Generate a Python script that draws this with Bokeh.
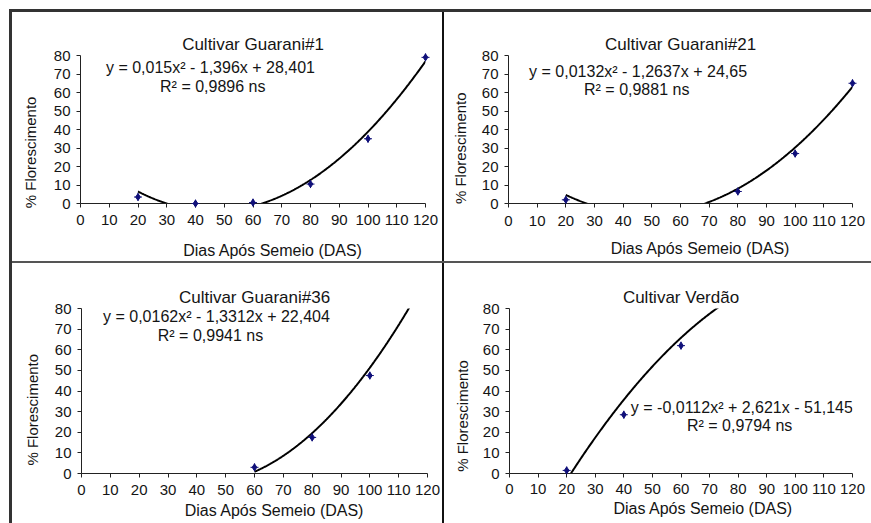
import numpy as np
from bokeh.plotting import figure
from bokeh.models import Range1d, FixedTicker, Label, Div, LinearAxis
from bokeh.layouts import row, column
from bokeh.embed import file_html
from bokeh.resources import INLINE

# ---------------- data ----------------
x_ticks = [0, 10, 20, 30, 40, 50, 60, 70, 80, 90, 100, 110, 120]
y_ticks = [0, 10, 20, 30, 40, 50, 60, 70, 80]

title_g1 = "Cultivar Guarani#1"
title_g21 = "Cultivar Guarani#21"
title_g36 = "Cultivar Guarani#36"
title_v = "Cultivar Verdão"

das_g1 = [20, 40, 60, 80, 100, 120]
flor_g1 = [3.5, 0, 0.5, 10.5, 35, 79]
das_g21 = [20, 80, 100, 120]
flor_g21 = [2, 6.5, 27, 65]
das_g36 = [60, 80, 100]
flor_g36 = [3, 17.5, 47.5]
das_v = [20, 40, 60]
flor_v = [1.5, 28.5, 62]

# printed trend-line coefficients (a, b, c) for y = a x^2 + b x + c
coef_g1 = [0.015, -1.396, 28.401]
coef_g21 = [0.0132, -1.2637, 24.65]
coef_g36 = [0.0162, -1.3312, 22.404]
coef_v = [-0.0112, 2.621, -51.145]

eq_g1 = "y = 0,015x² - 1,396x + 28,401"
r2_g1 = "R² = 0,9896 ns"
eq_g21 = "y = 0,0132x² - 1,2637x + 24,65"
r2_g21 = "R² = 0,9881  ns"
eq_g36 = "y = 0,0162x² - 1,3312x + 22,404"
r2_g36 = "R² = 0,9941  ns"
eq_v = "y = -0,0112x² + 2,621x - 51,145"
r2_v = "R² = 0,9794  ns"

x_label = "Dias Após Semeio (DAS)"
y_label = "% Florescimento"

FONT = "Liberation Sans"
TXT = "#141414"
NAVY = "#10107a"
NBSP = "\u00a0"


def panel(title, das, flor, coef, eq, r2, eq_pos, r2_pos, w, h, bl, br, bt, bb,
          tick_standoff, xlab_standoff, ylab_standoff, xpad, ypad):
    p = figure(width=w, height=h, output_backend="svg", toolbar_location=None,
               x_range=Range1d(0, 120), y_range=Range1d(0, 80),
               min_border_left=bl, min_border_right=br, min_border_top=bt,
               min_border_bottom=bb, background_fill_color="white",
               border_fill_color="white")
    p.outline_line_color = None
    p.grid.visible = False

    xa = p.below[0]
    ya = p.left[0]
    for ax in (xa, ya):
        ax.axis_line_color = "#222222"
        ax.major_tick_line_color = "#222222"
        ax.major_tick_out = 4
        ax.major_tick_in = 0
        ax.minor_tick_line_color = None
        ax.major_label_text_font = FONT
        ax.major_label_text_font_size = "15px"
        ax.major_label_text_color = TXT
        ax.axis_label_text_font = FONT
        ax.axis_label_text_font_style = "normal"
        ax.axis_label_text_color = TXT
    xa.axis_label_text_font_size = "16px"
    ya.axis_label_text_font_size = "15px"
    xa.ticker = FixedTicker(ticks=x_ticks)
    ya.ticker = FixedTicker(ticks=y_ticks)
    # the original axis titles sit to the right of / lower than the frame centre
    xa.axis_label = NBSP * xpad + x_label
    ya.axis_label = y_label + NBSP * ypad
    xa.major_label_standoff = tick_standoff
    xa.axis_label_standoff = xlab_standoff
    ya.major_label_standoff = 6
    ya.axis_label_standoff = ylab_standoff

    # empty spacer axis between the frame and the title (no line, no ticks)
    spacer = LinearAxis(ticker=FixedTicker(ticks=[]), axis_line_color=None,
                        major_tick_line_color=None, minor_tick_line_color=None,
                        major_tick_out=19, major_tick_in=0, minor_tick_out=0,
                        minor_tick_in=0, major_label_standoff=0,
                        major_label_text_font_size="1px")
    p.add_layout(spacer, "above")

    p.title.text = title
    p.title.align = "center"
    p.title.vertical_align = "top"
    p.title.text_font = FONT
    p.title.text_font_size = "17px"
    p.title.text_font_style = "normal"
    p.title.text_color = TXT
    p.title.standoff = 0

    a, b, c = coef
    xs = np.linspace(das[0], 120, 400)
    ys = a * xs ** 2 + b * xs + c
    p.line(xs, ys, line_color="black", line_width=2)

    p.scatter(das, flor, marker="diamond", size=7, color=NAVY, level="overlay")
    p.scatter(das, flor, marker="cross", size=8, line_color=NAVY, line_width=1,
              level="overlay")

    p.add_layout(Label(x=eq_pos[0], y=eq_pos[1], text=eq, text_align="center",
                       text_baseline="middle", text_font=FONT,
                       text_font_size="16px", text_color=TXT))
    p.add_layout(Label(x=r2_pos[0], y=r2_pos[1], text=r2, text_align="center",
                       text_baseline="middle", text_font=FONT,
                       text_font_size="16px", text_color=TXT))
    return p


p1 = panel(title_g1, das_g1, flor_g1, coef_g1, eq_g1, r2_g1, (45.2, 73.5), (46, 63.2),
           430, 249, 68, 17, 43, 58, 7, 14, 12, 9, 11)
p2 = panel(title_g21, das_g21, flor_g21, coef_g21, eq_g21, r2_g21, (45.2, 71.5), (45.5, 61.5),
           427, 249, 64, 19, 42, 56, 8, 11, 10, 9, 9)
p3 = panel(title_g36, das_g36, flor_g36, coef_g36, eq_g36, r2_g36, (46.8, 76.1), (45.5, 67),
           430, 260, 69, 15, 45, 50, 7, 4, 11, 9, 9)
p4 = panel(title_v, das_v, flor_v, coef_v, eq_v, r2_v, (81.3, 32), (81.3, 23.5),
           427, 260, 65, 19, 42, 48, 6, 3, 9, 10, 12)


def bar(w, h, color):
    return Div(text="", width=w, height=h, margin=(0, 0, 0, 0),
               styles={"background-color": color})


layout = column(
    bar(871, 9, "#ffffff"),
    row(
        bar(9, 514, "#ffffff"),
        bar(3, 514, "#333333"),
        column(
            bar(859, 3, "#333333"),
            row(p1, bar(2, 249, "#111111"), p2, spacing=0),
            bar(859, 2, "#555555"),
            row(p3, bar(2, 260, "#111111"), p4, spacing=0),
            spacing=0,
        ),
        spacing=0,
    ),
    spacing=0,
)

open("out.html", "w").write(file_html(layout, INLINE))
